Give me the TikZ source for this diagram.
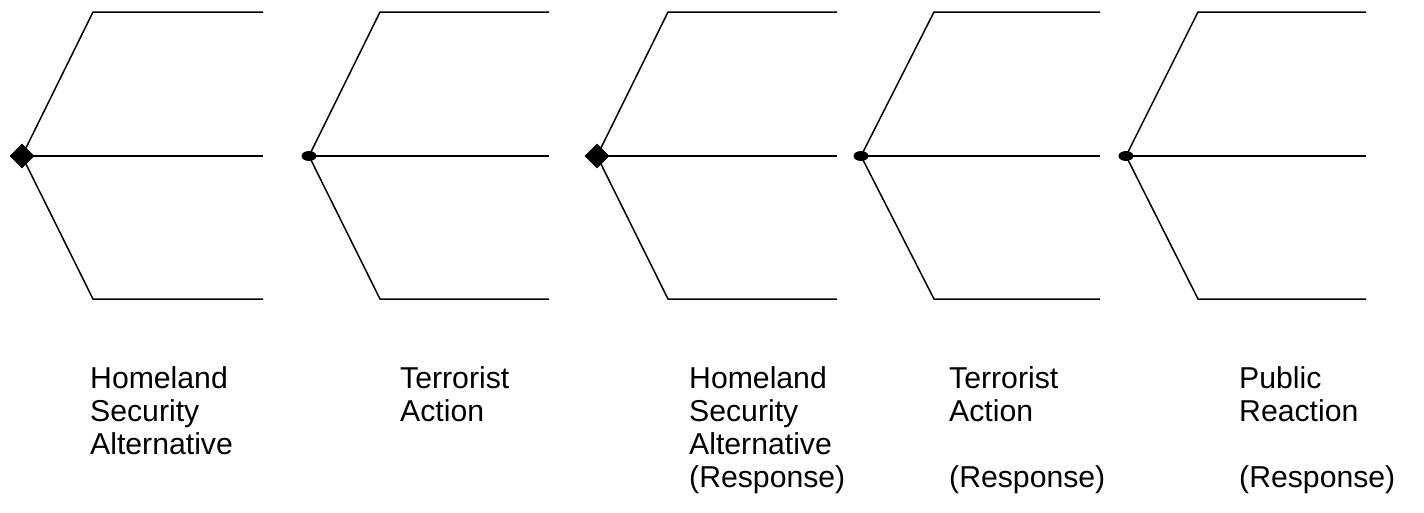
\documentclass[tikz,border=0pt]{standalone}
\usepackage{fontspec}
\setmainfont{Liberation Sans}
\usetikzlibrary{shapes.geometric}
\begin{document}
\begin{tikzpicture}[x=1pt,y=-1pt,
  decision/.style={diamond,fill=black,draw=none,inner sep=0pt,minimum width=25pt,minimum height=25pt},
  chance/.style={ellipse,fill=black,draw=none,inner sep=0pt,minimum width=15pt,minimum height=10pt},
  branch/.style={line width=1.5pt},
  lbl/.style={anchor=north west,inner sep=0pt,align=left,font=\fontsize{30.2}{33.3}\selectfont}]
\useasboundingbox (0,0) rectangle (1424,512);
% group 1
\node[decision] (n1) at (22,156) {};
\coordinate (a1) at (93,12); \coordinate (a1e) at (263,12);
\coordinate (b1) at (263,156);
\coordinate (c1) at (93,299); \coordinate (c1e) at (263,299);
\draw[branch] (n1.center) -- (a1) -- (a1e);
\draw[branch] (n1.center) -- (b1);
\draw[branch] (n1.center) -- (c1) -- (c1e);
% group 2
\node[chance] (n2) at (309,156) {};
\coordinate (a2) at (380,12); \coordinate (a2e) at (549,12);
\coordinate (b2) at (549,156);
\coordinate (c2) at (380,299); \coordinate (c2e) at (549,299);
\draw[branch] (n2.center) -- (a2) -- (a2e);
\draw[branch] (n2.center) -- (b2);
\draw[branch] (n2.center) -- (c2) -- (c2e);
% group 3
\node[decision] (n3) at (597,156) {};
\coordinate (a3) at (668,12); \coordinate (a3e) at (837,12);
\coordinate (b3) at (837,156);
\coordinate (c3) at (668,299); \coordinate (c3e) at (837,299);
\draw[branch] (n3.center) -- (a3) -- (a3e);
\draw[branch] (n3.center) -- (b3);
\draw[branch] (n3.center) -- (c3) -- (c3e);
% group 4
\node[chance] (n4) at (861,156) {};
\coordinate (a4) at (934,12); \coordinate (a4e) at (1100,12);
\coordinate (b4) at (1100,156);
\coordinate (c4) at (934,299); \coordinate (c4e) at (1100,299);
\draw[branch] (n4.center) -- (a4) -- (a4e);
\draw[branch] (n4.center) -- (b4);
\draw[branch] (n4.center) -- (c4) -- (c4e);
% group 5
\node[chance] (n5) at (1126,156) {};
\coordinate (a5) at (1198,12); \coordinate (a5e) at (1366,12);
\coordinate (b5) at (1366,156);
\coordinate (c5) at (1198,299); \coordinate (c5e) at (1366,299);
\draw[branch] (n5.center) -- (a5) -- (a5e);
\draw[branch] (n5.center) -- (b5);
\draw[branch] (n5.center) -- (c5) -- (c5e);
% labels
\node[lbl] (l1) at (90,366) {Homeland\\Security\\Alternative};
\node[lbl] (l2) at (400,366) {Terrorist\\Action};
\node[lbl] (l3) at (689,366) {Homeland\\Security\\Alternative\\(Response)};
\node[lbl] (l4) at (949,366) {Terrorist\\Action\\[33.3pt](Response)};
\node[lbl] (l5) at (1239,366) {Public\\Reaction\\[33.3pt](Response)};
\end{tikzpicture}
\end{document}
